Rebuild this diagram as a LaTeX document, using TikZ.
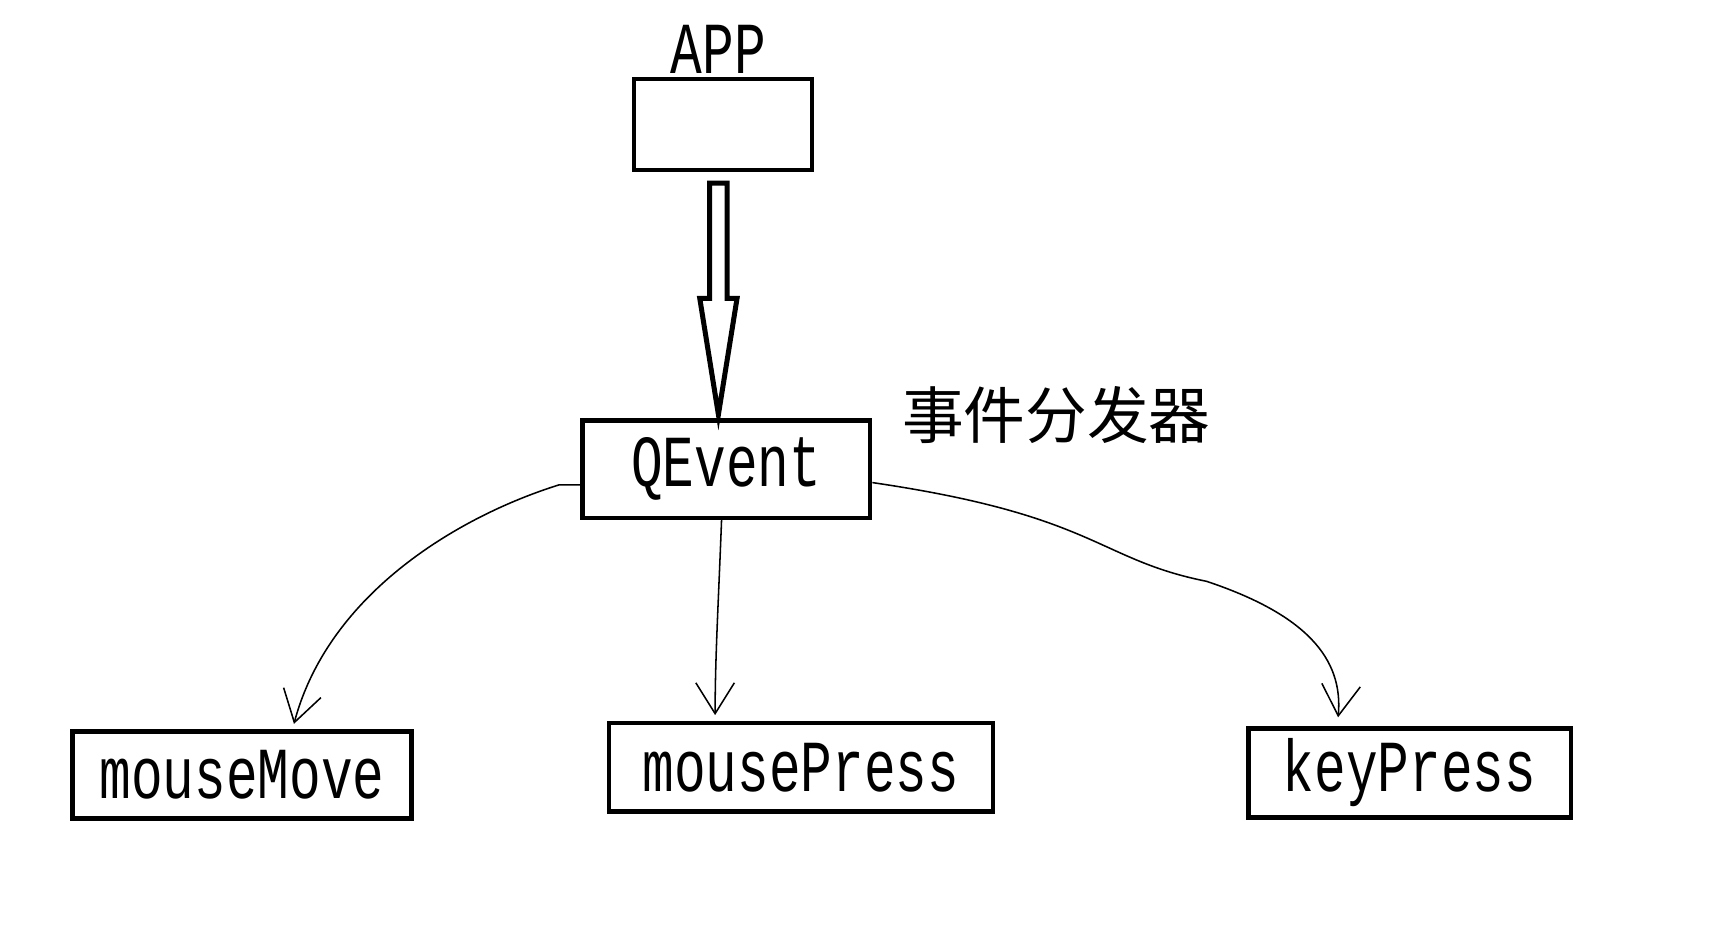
\documentclass[tikz,border=0pt]{standalone}
\usepackage{fontspec}
\newfontfamily\codefont[FakeStretch=0.72]{Liberation Mono}
\newfontfamily\cjk{Noto Sans CJK SC}
\usetikzlibrary{arrows.meta}
\tikzset{
  box/.style={draw,line width=1.2pt,inner sep=0pt,anchor=north west},
  lbl/.style={font=\codefont\fontsize{19}{19}\selectfont},
  flow/.style={thin,-{Straight Barb[length=8pt,width=10pt]}},
}
\begin{document}
\begin{tikzpicture}[x=0.01cm,y=-0.01cm]
  \useasboundingbox (0,0) rectangle (1560,846);
  % boxes
  \node[box,minimum width=162\pgflinewidth,minimum width=1.62cm,minimum height=0.83cm] (app) at (576,70) {};
  \node[lbl] (apptxt) at (655,45) {APP};
  \node[box,minimum width=2.62cm,minimum height=0.89cm] (qevent) at (529,381) {};
  \node[lbl] at (qevent.center) {QEvent};
  \node[font=\cjk\fontsize{16}{16}\selectfont,anchor=west] (disp) at (810,378) {事件分发器};
  \node[box,minimum width=3.09cm,minimum height=0.79cm] (move) at (64,665) {};
  \node[lbl] at (move.center) {mouseMove};
  \node[box,minimum width=3.50cm,minimum height=0.81cm] (press) at (553,657) {};
  \node[lbl] at (press.center) {mousePress};
  \node[box,minimum width=2.94cm,minimum height=0.81cm] (key) at (1136,662) {};
  \node[lbl] at (key.center) {keyPress};
  % hollow arrow
  \coordinate (tail) at (655,167);
  \draw[line width=1.3pt,line join=miter]
    (647,167) -- (663,167) -- (663,272) -- (672,272) -- (655,378)
    -- (638,272) -- (647,272) -- cycle;
  % dispatch curves
  \coordinate (m1) at (268,660);
  \coordinate (m2) at (652,652);
  \coordinate (m3) at (1220,654);
  \draw[flow] (qevent.west |- 0,442) -- (510,442) .. controls (420,470) and (300,540) .. (m1);
  \draw[flow] (658,471) .. controls (655,550) and (652,600) .. (m2);
  \draw[flow] (qevent.east |- 0,440) .. controls (1000,470) and (1000,510) .. (1100,530)
    .. controls (1190,560) and (1225,600) .. (m3);
\end{tikzpicture}
\end{document}
